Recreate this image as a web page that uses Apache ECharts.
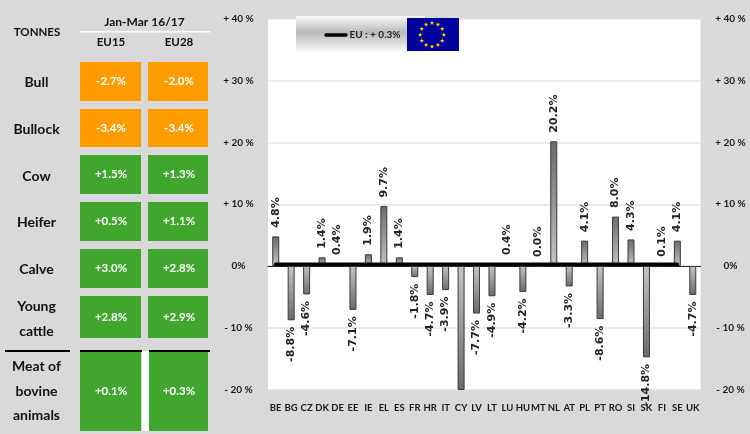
<!DOCTYPE html>
<html><head><meta charset="utf-8">
<style>html,body{margin:0;padding:0;background:#d9d9d9}#c{width:750px;height:434px}</style>
<script src="https://cdn.jsdelivr.net/npm/echarts@6/dist/echarts.min.js"></script></head>
<body><div id="c"></div>
<script>
const countries = ['BE','BG','CZ','DK','DE','EE','IE','EL','ES','FR','HR','IT','CY','LV','LT','LU','HU','MT','NL','AT','PL','PT','RO','SI','SK','FI','SE','UK'];
const changes = [4.8,-8.8,-4.6,1.4,0.4,-7.1,1.9,9.7,1.4,-1.8,-4.7,-3.9,-24,-7.7,-4.9,0.4,-4.2,0.0,20.2,-3.3,4.1,-8.6,8.0,4.3,-14.8,0.1,4.1,-4.7];
const euAverage = [0.3,0.3,0.3,0.3,0.3,0.3,0.3,0.3,0.3,0.3,0.3,0.3,0.3,0.3,0.3,0.3,0.3,0.3,0.3,0.3,0.3,0.3,0.3,0.3,0.3,0.3,0.3,null];
const hiddenLabels = ['CY'];
const yTickLabels = {'40':'+ 40 %','30':'+ 30 %','20':'+ 20 %','10':'+ 10 %','0':'0%','-10':'- 10 %','-20':'- 20 %'};
const tableRows = ['Bull','Bullock','Cow','Heifer','Calve','Young\ncattle','Meat of\nbovine\nanimals'];
const eu15 = ['-2.7%','-3.4%','+1.5%','+0.5%','+3.0%','+2.8%','+0.1%'];
const eu28 = ['-2.0%','-3.4%','+1.3%','+1.1%','+2.8%','+2.9%','+0.3%'];

const FONT = 'Lato';
const rowTop = [62,109,155,202,249,296,351];
const rowBottom = [101,147,194,241,288,338,431];
const labelY = [82,129,176,222,269,319,391];
const ORANGE = '#ff9c00', GREEN = '#41a62e';
const g = [];
const txt = (x,y,t,size,fill,extra) => g.push({type:'text',x,y,z:20,style:Object.assign({text:t,fill:fill||'#111',font:'bold '+size+'px '+FONT,textAlign:'center',textVerticalAlign:'middle'},extra||{})});
const rect = (x,y,w,h,fill,z) => g.push({type:'rect',shape:{x,y,width:w,height:h},z:z||10,style:{fill}});
txt(37,32,'TONNES',11.5);
txt(144.5,22,'Jan-Mar 16/17',12);
txt(111,42,'EU15',11.5);
txt(179,42,'EU28',11.5);
rect(80,31,130,1.5,'#fff');
tableRows.forEach((name,i)=>{
  const col = eu15[i][0]==='-' ? ORANGE : GREEN;
  const last = i===tableRows.length-1;
  rect(80,rowTop[i],61,rowBottom[i]-rowTop[i],col);
  rect(last?149:148,rowTop[i],last?59:60,rowBottom[i]-rowTop[i],col);
  txt(36.5,labelY[i],name,14,'#111',{lineHeight:24.5});
  const cy=(rowTop[i]+rowBottom[i])/2;
  txt(111,cy,eu15[i],11.5,'#fff');
  txt(179,cy,eu28[i],11.5,'#fff');
});
rect(142,351,7,80,'#fff');
rect(5,350,65,2,'#000',12);
rect(80,350,62,2,'#000',12);
rect(149,350,61,2,'#000',12);
g.push({type:'rect',shape:{x:296,y:16,width:129,height:37},z:10,style:{fill:{type:'linear',x:0,y:0,x2:0,y2:1,colorStops:[{offset:0,color:'#fafafa'},{offset:0.45,color:'#b9b9b9'},{offset:1,color:'#ffffff'}]}}});
g.push({type:'line',shape:{x1:326,y1:35,x2:346,y2:35},z:12,style:{stroke:'#000',lineWidth:3.5,lineCap:'round'}});
txt(375,35,'EU : + 0.3%',10,'#222');
rect(407,18,52,33,'#00009a',11);
for(let k=0;k<12;k++){
  const a=k*Math.PI/6, cx=432+11.8*Math.sin(a), cy=34.8-11.8*Math.cos(a), pts=[];
  for(let j=0;j<10;j++){const r=j%2?1:2.4, b=j*Math.PI/5; pts.push([cx+r*Math.sin(b),cy-r*Math.cos(b)]);}
  g.push({type:'polygon',shape:{points:pts},z:12,style:{fill:'#ffd200'}});
}

const barItems = changes.map((v,i)=>{
  const dark='#6a6a6a', light='#c4c4c4';
  return {
    value:v,
    itemStyle:{borderColor:'#3a3a3a',borderWidth:1,color:{type:'linear',x:0,y:0,x2:0,y2:1,colorStops:v>=0?[{offset:0,color:dark},{offset:1,color:light}]:[{offset:0,color:light},{offset:1,color:dark}]}},
    label:{show:!hiddenLabels.includes(countries[i]),position:v>=0?'top':'bottom',align:v>=0?'left':'right',distance:v>=0?6:9}
  };
});
const yLabel = margin => ({margin,align:'center',color:'#1a1a1a',fontFamily:FONT,fontWeight:'bold',fontSize:10,formatter:v=>yTickLabels[String(v)]||''});
const chart = echarts.init(document.getElementById('c'),null,{renderer:'canvas'});
chart.setOption({
  animation:false,
  backgroundColor:'#d9d9d9',
  grid:{left:268,right:49.5,top:19,bottom:44.5,show:true,backgroundColor:'#fff',borderWidth:0},
  xAxis:{type:'category',data:countries,axisTick:{show:false},
    axisLine:{onZero:true,lineStyle:{color:'#222',width:1}},
    axisLabel:{interval:0,color:'#1a1a1a',fontFamily:FONT,fontWeight:'bold',fontSize:9.5,margin:13,formatter:v=>v}},
  yAxis:[
    {type:'value',min:-20,max:40,interval:10,position:'left',axisLine:{show:false},axisTick:{show:false},axisLabel:yLabel(29.5),
     splitLine:{show:true,lineStyle:{color:'#e3e3e3',width:1.5}}},
    {type:'value',min:-20,max:40,interval:10,position:'right',axisLine:{show:false},axisTick:{show:false},axisLabel:yLabel(30),splitLine:{show:false}}
  ],
  series:[
    {type:'bar',data:barItems,barWidth:7,clip:true,z:3,
     label:{show:true,rotate:90,offset:[2.5,0],verticalAlign:'middle',color:'#222',fontFamily:'DejaVu Sans',fontSize:11,fontWeight:'bold',
       formatter:p=>p.value.toFixed(1)+'%'}},
    {type:'line',data:euAverage,symbol:'none',z:5,lineStyle:{color:'#000',width:3.5,cap:'round'},itemStyle:{color:'#000'}}
  ],
  graphic:{elements:g}
});
</script></body></html>
